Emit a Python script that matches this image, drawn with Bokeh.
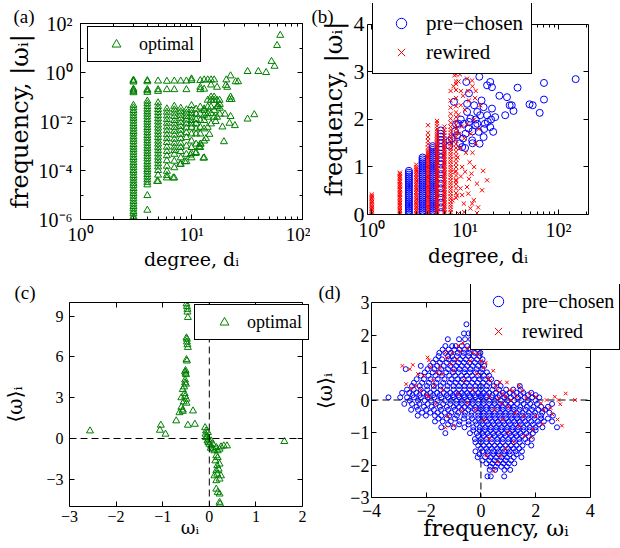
from bokeh.plotting import figure
from bokeh.models import Range1d, FixedTicker, LinearAxis, LogAxis, Legend, LegendItem, Span
from bokeh.layouts import column, row
from bokeh.embed import file_html
from bokeh.resources import INLINE

SERIF = "Liberation Serif"
LAB = "DejaVu Serif"
GREEN = "#008000"
BLUE = "#0000ff"
RED = "#ff0000"

# ---------------- data: panel (a)  degree -> |omega| (optimal) ----------------
a_cols = {
    3: [1.1e-6, 1.3e-6, 1.7e-6, 2.1e-6, 2.7e-6, 3.4e-6, 4.3e-6, 5.5e-6, 7e-6, 9e-6, 1.15e-5, 1.45e-5,
        1.85e-5, 2.4e-5, 3.0e-5, 3.8e-5, 4.9e-5, 6.2e-5, 8e-5, 1.0e-4, 1.3e-4, 1.65e-4, 2.1e-4, 2.7e-4,
        3.4e-4, 4.4e-4, 5.6e-4, 7.1e-4, 9e-4, 1.15e-3, 1.5e-3, 1.9e-3, 2.4e-3, 3.1e-3, 3.9e-3, 5e-3,
        6.4e-3, 8.2e-3, 1.05e-2, 1.35e-2, 1.7e-2, 2.2e-2, 2.8e-2, 3.6e-2, 4.6e-2, 0.15, 0.17, 0.19,
        0.21, 0.41, 0.45, 0.49],
    4: [2.4e-6, 9.5e-6, 2.6e-5, 3.3e-5, 4.2e-5, 5.4e-5, 6.9e-5, 8.8e-5, 1.1e-4, 1.4e-4, 1.8e-4, 2.3e-4,
        3.0e-4, 3.8e-4, 4.9e-4, 6.2e-4, 8e-4, 1.0e-3, 1.3e-3, 1.65e-3, 2.1e-3, 2.7e-3, 3.5e-3, 4.5e-3,
        5.7e-3, 7.3e-3, 9.4e-3, 1.2e-2, 1.55e-2, 2.0e-2, 2.5e-2, 3.2e-2, 4.1e-2, 5.3e-2, 0.068, 0.155,
        0.18, 0.2, 0.42, 0.47],
    5: [3.6e-5, 6.5e-5, 1.0e-4, 1.4e-4, 1.9e-4, 2.6e-4, 3.5e-4, 4.8e-4, 6.5e-4, 8.8e-4, 1.2e-3, 1.6e-3,
        2.2e-3, 3.0e-3, 4.0e-3, 5.4e-3, 7.2e-3, 9.7e-3, 1.3e-2, 1.75e-2, 2.35e-2, 3.1e-2, 4.1e-2, 0.058,
        0.17, 0.2, 0.45],
    6: [5e-5, 6.3e-5, 9.3e-5, 1.5e-4, 2.5e-4, 4e-4, 6e-4, 9e-4, 1.4e-3, 2.0e-3, 2.9e-3, 4.2e-3, 6e-3,
        8.5e-3, 1.2e-2, 1.7e-2, 2.4e-2, 3.3e-2, 0.2, 0.44],
    7: [5e-5, 1.3e-4, 2.4e-4, 4.6e-4, 6.5e-4, 9e-4, 1.3e-3, 1.9e-3, 2.8e-3, 4e-3, 5.6e-3, 8e-3, 1.1e-2,
        1.6e-2, 2.2e-2, 3.0e-2, 0.042, 0.2, 0.45],
    8: [1.8e-4, 3.3e-4, 6e-4, 8.7e-4, 1.3e-3, 2e-3, 3e-3, 4.4e-3, 6.3e-3, 9e-3, 1.3e-2, 1.8e-2, 2.5e-2,
        0.035, 0.45],
    9: [2.3e-4, 4.6e-4, 1.0e-3, 2.2e-3, 3.5e-3, 5.5e-3, 8e-3, 1.15e-2, 1.6e-2, 2.2e-2, 3.0e-2, 0.2, 0.45],
    10: [3.3e-4, 5e-4, 8.7e-4, 1.6e-3, 3.1e-3, 5.8e-3, 8e-3, 1.1e-2, 1.5e-2, 2.1e-2, 2.85e-2, 0.045, 0.47,
         0.55],
    11: [5.4e-4, 1.2e-3, 3.1e-3, 5e-3, 8e-3, 1.2e-2, 2.0e-2, 0.032],
    12: [1.2e-3, 8.7e-4, 3.1e-3, 5.8e-3, 1.1e-2, 2.0e-2, 0.039, 0.25, 0.2, 0.47],
    13: [3.3e-4, 1.6e-3, 5e-3, 1.1e-2, 1.8e-2, 0.0285, 0.033, 0.21, 0.5],
    14: [5.8e-3, 1.5e-2, 2.1e-2, 0.039, 0.074, 0.5],
    15: [8e-3, 2.1e-2, 0.039, 0.074, 0.1, 0.31, 0.5],
    16: [1.5e-2, 0.0285, 0.074, 0.1, 0.5],
    17: [0.04, 0.074, 0.015, 0.25],
    18: [0.02, 0.05],
}
a_extra = [(63, 33), (59, 12.7), (52.6, 2.85), (56, 1.8), (47, 1.0), (40, 1.1), (32, 1.1), (26.3, 0.42),
           (25, 0.42), (22.5, 0.73), (20.6, 0.5), (20.4, 0.3), (22.5, 0.1), (22, 0.08), (17.9, 0.074),
           (17.3, 0.042), (32, 0.0126), (36.8, 0.019), (22.5, 0.016), (22, 0.0085), (24.6, 0.0068),
           (19.6, 0.0015), (12.8, 3.2e-4), (12.1, 1.2e-3), (11.7, 9.3e-4), (10.9, 5e-4), (9.8, 4.3e-4),
           (8.7, 2.3e-4), (7.9, 1.8e-4), (6.85, 5e-5), (4.9, 3.6e-5), (20, 0.02), (19, 0.006),
           (14.5, 0.003), (13.5, 0.002), (16.5, 0.01), (18, 0.035), (21, 0.25), (23, 0.08)]

# ---------------- data: panel (b)  degree -> |omega| ----------------
b_pre_cols = {
    2.5: [0.00, 0.04, 0.08, 0.12, 0.16, 0.20, 0.24, 0.28, 0.32, 0.36, 0.40, 0.44, 0.48, 0.52, 0.56, 0.60,
          0.64, 0.68, 0.72, 0.76, 0.80, 0.84, 0.88, 0.92],
    3.5: [0.00, 0.04, 0.08, 0.12, 0.16, 0.20, 0.24, 0.28, 0.32, 0.36, 0.40, 0.44, 0.48, 0.52, 0.56, 0.60,
          0.64, 0.68, 0.72, 0.76, 0.80, 0.84, 0.88, 0.92, 0.96, 1.00, 1.04, 1.08, 1.12, 1.16, 1.20],
    4.5: [0.00, 0.04, 0.08, 0.12, 0.16, 0.20, 0.24, 0.28, 0.32, 0.36, 0.40, 0.44, 0.48, 0.52, 0.56, 0.60,
          0.64, 0.68, 0.72, 0.76, 0.80, 0.84, 0.88, 0.92, 0.96, 1.00, 1.04, 1.08, 1.12, 1.16, 1.20, 1.24,
          1.28, 1.32, 1.36, 1.40, 1.44],
    5.5: [0.05, 0.15, 0.25, 0.35, 0.45, 0.55, 0.65, 0.75, 0.85, 0.95, 1.05, 1.12, 1.2, 1.28, 1.36, 1.42,
          1.5, 1.57, 1.64, 1.7, 1.77],
}
b_pre_extra = [(6.8, 1.45), (6.8, 1.55), (7.2, 1.6), (7.6, 2.37), (7.8, 1.75), (8.2, 1.67), (8.5, 1.91),
               (8.8, 1.5), (9.3, 1.42), (9.7, 1.91), (10.1, 1.7), (10.3, 2.79), (10.5, 2.33), (10.5, 2.16),
               (10.9, 1.81), (11.4, 2.02), (11.9, 1.56), (12.9, 1.88), (13.5, 2.16), (13.5, 1.91),
               (14.0, 1.74), (14.2, 2.9), (14.3, 1.49), (14.5, 2.09), (15.8, 2.26), (15.8, 1.63),
               (16.3, 1.91), (17.2, 2.72), (17.2, 2.09), (18.6, 2.79), (18.6, 1.84), (19.4, 2.68),
               (19.4, 2.23), (20, 1.74), (21, 2.05), (23.3, 2.5), (26.9, 2.09), (28.1, 2.47), (30, 2.3),
               (31.6, 2.3), (33, 2.18), (36.5, 2.67), (49, 2.32), (53, 2.3), (63, 2.14), (70, 2.42),
               (70, 2.77), (153, 2.85), (12.0, 1.75), (11.0, 1.95), (13, 2.0), (16, 1.8), (9.0, 2.0),
               (8.0, 1.9), (15, 2.4), (12.5, 2.3), (17.5, 1.95), (19, 2.0), (11, 2.55), (9.5, 1.6),
               (10, 1.4), (12, 1.5)]
b_rew_cols = {
    1: [0.00, 0.03, 0.06, 0.10, 0.13, 0.16, 0.19, 0.23, 0.26, 0.29, 0.33, 0.36, 0.39, 0.42],
    2: [0.00, 0.03, 0.07, 0.10, 0.13, 0.17, 0.20, 0.24, 0.27, 0.30, 0.34, 0.37, 0.41, 0.44, 0.47, 0.51,
        0.54, 0.58, 0.61, 0.64, 0.68, 0.71, 0.75, 0.78, 0.81, 0.85, 0.88],
    3: [0.00, 0.03, 0.07, 0.10, 0.14, 0.17, 0.21, 0.24, 0.27, 0.31, 0.34, 0.38, 0.41, 0.45, 0.48, 0.52,
        0.55, 0.58, 0.62, 0.65, 0.69, 0.72, 0.76, 0.79, 0.83, 0.86, 0.90, 0.93, 0.96, 1.00, 1.05],
    4: [0.00, 0.04, 0.07, 0.11, 0.14, 0.18, 0.21, 0.25, 0.28, 0.32, 0.35, 0.39, 0.42, 0.46, 0.49, 0.53,
        0.56, 0.60, 0.63, 0.67, 0.70, 0.74, 0.77, 0.81, 0.84, 0.88, 0.91, 0.95, 0.98, 1.02, 1.05, 1.09,
        1.12, 1.16, 1.19, 1.23, 1.27, 1.31, 1.35, 1.41, 1.48, 1.55, 1.63, 1.72, 1.88],
    5: [0.00, 0.04, 0.07, 0.11, 0.14, 0.18, 0.21, 0.25, 0.28, 0.32, 0.35, 0.39, 0.42, 0.46, 0.49, 0.53,
        0.56, 0.60, 0.63, 0.67, 0.70, 0.74, 0.77, 0.81, 0.84, 0.88, 0.91, 0.95, 0.98, 1.02, 1.05, 1.09,
        1.12, 1.16, 1.19, 1.23, 1.26, 1.30, 1.33, 1.37, 1.40, 1.44, 1.47, 1.51, 1.54, 1.58, 1.62, 1.66,
        1.70, 1.75, 1.80, 1.86, 1.92, 1.97],
    6: [0.02, 0.05, 0.09, 0.12, 0.16, 0.19, 0.23, 0.26, 0.30, 0.33, 0.37, 0.40, 0.44, 0.47, 0.51, 0.54,
        0.58, 0.61, 0.65, 0.68, 0.72, 0.75, 0.79, 0.82, 0.86, 0.89, 0.93, 0.96, 1.00, 1.03, 1.07, 1.10,
        1.14, 1.17, 1.21, 1.24, 1.28, 1.31, 1.35, 1.38, 1.42, 1.46, 1.50, 1.55, 1.60, 1.66, 1.72, 1.78,
        1.85],
    7: [0.05, 0.10, 0.16, 0.21, 0.27, 0.33, 0.38, 0.44, 0.50, 0.55, 0.61, 0.66, 0.72, 0.78, 0.83, 0.89,
        0.94, 1.00, 1.05, 1.11, 1.16, 1.22, 1.27, 1.33, 1.38, 1.44, 1.49, 1.55, 1.60, 1.66, 1.72, 1.78,
        1.85, 1.93, 2.02, 2.12, 2.25, 2.40, 2.60],
    8: [0.35, 0.45, 0.55, 0.64, 0.73, 0.82, 0.91, 1.00, 1.08, 1.16, 1.24, 1.32, 1.40, 1.48, 1.56, 1.64,
        1.72, 1.80, 1.88, 1.96, 2.05, 2.15, 2.28, 2.45, 2.62, 2.80, 2.95],
}
b_rew_extra = [(7.7, 2.93), (10.5, 2.86), (11.9, 2.82), (8.0, 2.75), (9.0, 2.6), (8.5, 2.8), (9.5, 2.5),
               (11, 2.4), (10, 2.2), (12, 2.7), (13, 2.6), (9, 2.3), (8.5, 2.1), (10.5, 1.9), (11.5, 1.7),
               (12.5, 2.0), (9.8, 1.6), (8.8, 1.4), (10.2, 1.3), (11.2, 1.1), (9.3, 1.0), (8.3, 1.2),
               (12.0, 1.3), (11.7, 0.86), (13.4, 0.65), (15.6, 0.92), (17.2, 0.72), (15.2, 0.51),
               (12.4, 0.3), (11.4, 0.13), (13.4, 0.03), (8.5, 0.02), (9.3, 0.41), (10.5, 0.58), (9.7, 0.23),
               (10.8, 0.44), (11.9, 0.23), (13, 1.5), (14, 1.8), (14.5, 2.3), (8.0, 0.7), (9.0, 0.8),
               (10.0, 0.9), (8.6, 1.7), (9.2, 1.85), (10.8, 2.6), (12.8, 2.45), (8.2, 0.4), (9.8, 0.05),
               (13.8, 0.15), (12.5, 1.0), (11.0, 0.75), (7.5, 2.7), (8.8, 2.95), (7.3, 0.3), (7.8, 0.9),
               (8.9, 0.55)]

# ---------------- data: panel (c)  omega -> <omega> (optimal) ----------------
c_pts = [(-0.49, 9.9), (-0.48, 9.7), (-0.47, 9.5), (-0.47, 9.3), (-0.46, 8.9), (-0.49, 7.4), (-0.48, 7.3),
         (-0.48, 7.1), (-0.47, 6.9), (-0.46, 6.7), (-0.49, 5.8), (-0.48, 5.7), (-0.51, 5.0), (-0.52, 4.9),
         (-0.51, 4.8), (-0.50, 4.7), (-0.52, 4.3), (-0.52, 4.1), (-0.50, 4.0), (-0.54, 3.8), (-0.57, 3.6),
         (-0.53, 3.3), (-0.52, 3.1), (-0.49, 2.9), (-0.55, 2.7), (-0.49, 2.6), (-0.6, 3.0), (-0.6, 2.3),
         (-0.57, 2.1), (-0.57, 2.0), (-0.64, 1.9),
         (-2.56, 0.56), (-1.04, 0.98), (-1.06, 0.61), (-0.94, 0.32), (-0.71, 1.3), (-0.46, 0.98),
         (-0.31, 1.05), (-0.35, 2.03), (1.61, -0.22),
         (-0.09, 0.8), (-0.07, 0.56), (-0.08, 0.32), (-0.07, 0.07), (-0.04, -0.17), (-0.02, -0.29),
         (0.0, -0.42), (0.04, -0.54), (0.03, -0.71), (0.08, -0.78), (0.11, -0.9), (-0.03, 0.44),
         (-0.04, 0.12), (-0.02, -0.05), (0.04, -0.17), (0.08, -0.42), (0.15, -0.66), (0.22, -0.78),
         (0.25, -0.61), (0.31, -0.54), (0.38, -0.54), (0.18, -0.9), (0.15, -1.27), (0.13, -1.64),
         (0.17, -2.0), (0.15, -2.37), (0.11, -2.74), (0.17, -2.62), (0.15, -3.1), (0.22, -2.98),
         (0.15, -3.72), (0.18, -3.96), (0.22, -4.08), (0.22, -4.69), (0.23, -4.82), (0.18, -1.4),
         (0.22, -1.88), (0.2, -2.25), (0.25, -2.74)]

# ---------------- data: panel (d)  omega -> <omega> ----------------
d_pre_rows = [
    (2.33, [-0.53]),
    (2.05, [-0.62, -0.45, -0.33]),
    (1.87, [-1.21, -0.8, -0.58, -0.36]),
    (1.66, [-1.3, -1.05, -0.92, -0.7, -0.5, -0.28]),
    (1.55, [-1.4, -1.18, -0.97, -0.78, -0.6, -0.4, -0.12]),
    (1.45, [-1.52, -1.3, -1.1, -0.85, -0.63, -0.43, -0.22, -0.02]),
    (1.35, [-1.55, -1.2, -1.05, -0.88, -0.66, -0.46, -0.26, -0.05]),
    (1.25, [-1.65, -1.42, -1.18, -0.98, -0.76, -0.55, -0.36, -0.14, 0.06]),
    (1.15, [-1.75, -1.5, -1.25, -1.02, -0.82, -0.62, -0.42, -0.22, 0.0]),
    (1.05, [-2.2, -1.85, -1.6, -1.36, -1.12, -0.9, -0.7, -0.5, -0.3, -0.1, 0.12]),
    (0.95, [-2.75, -1.95, -1.7, -1.45, -1.2, -0.98, -0.78, -0.58, -0.38, -0.16, 0.05]),
    (0.85, [-2.05, -1.76, -1.52, -1.27, -1.02, -0.82, -0.6, -0.4, -0.2, 0.0, 0.22]),
    (0.75, [-2.2, -1.92, -1.66, -1.42, -1.16, -0.94, -0.72, -0.52, -0.32, -0.1, 0.12, 0.3]),
    (0.64, [-2.35, -2.08, -1.84, -1.58, -1.33, -1.08, -0.86, -0.66, -0.46, -0.25, -0.05, 0.16, 0.38]),
    (0.53, [-2.45, -2.15, -1.9, -1.63, -1.38, -1.14, -0.92, -0.72, -0.52, -0.32, -0.12, 0.08, 0.3, 0.58]),
    (0.43, [-2.52, -2.24, -1.97, -1.72, -1.47, -1.22, -1.0, -0.8, -0.6, -0.4, -0.2, 0.0, 0.22, 0.47,
            0.72, 1.42]),
    (0.32, [-2.7, -2.46, -2.2, -1.96, -1.72, -1.48, -1.24, -1.0, -0.8, -0.6, -0.4, -0.2, 0.0, 0.2, 0.42,
            0.66, 0.92, 1.18, 1.45]),
    (0.22, [-2.88, -2.62, -2.36, -2.1, -1.85, -1.6, -1.36, -1.12, -0.9, -0.7, -0.5, -0.3, -0.1, 0.1, 0.3,
            0.55, 0.8, 1.05, 1.3, 1.55, 1.84]),
    (0.15, [-2.5, -2.25, -1.98, -1.75, -1.5, -1.25, -1.02, -0.82, -0.62, -0.42, -0.22, 0.0, 0.2, 0.42,
            0.68, 0.92, 1.2, 1.45, 1.72, 2.0]),
    (0.08, [-3.38, -2.95, -2.7, -2.45, -2.2, -1.95, -1.7, -1.45, -1.2, -1.0, -0.8, -0.6, -0.4, -0.2, 0.0,
            0.2, 0.4, 0.62, 0.86, 1.1, 1.35, 1.6, 1.88, 2.13]),
    (-0.02, [-2.6, -2.3, -2.05, -1.82, -1.58, -1.32, -1.1, -0.9, -0.7, -0.5, -0.3, -0.1, 0.1, 0.3, 0.5,
             0.72, 0.96, 1.22, 1.48, 1.72, 2.0]),
    (-0.12, [-2.8, -2.52, -2.25, -1.95, -1.65, -1.38, -1.12, -0.9, -0.7, -0.5, -0.3, -0.1, 0.1, 0.3, 0.5,
             0.7, 0.9, 1.1, 1.32, 1.56, 1.8, 2.05, 2.6]),
    (-0.21, [-2.35, -2.08, -1.8, -1.5, -1.25, -1.0, -0.8, -0.6, -0.4, -0.2, 0.0, 0.2, 0.4, 0.6, 0.8, 1.0,
             1.2, 1.44, 1.68, 1.92, 2.2, 2.45]),
    (-0.3, [-2.55, -2.3, -2.0, -1.72, -1.46, -1.2, -0.95, -0.7, -0.46, -0.22, 0.0, 0.2, 0.4, 0.6, 0.8,
            1.0, 1.2, 1.42, 1.64, 1.87, 2.1, 2.35]),
    (-0.39, [-2.15, -1.85, -1.58, -1.32, -1.08, -0.82, -0.58, -0.34, -0.1, 0.1, 0.3, 0.5, 0.7, 0.9, 1.1,
             1.3, 1.52, 1.75, 1.98, 2.24, 2.5]),
    (-0.48, [-2.31, -2.01, -1.68, -1.45, -1.15, -0.88, -0.6, -0.35, -0.1, 0.1, 0.3, 0.5, 0.7, 0.9, 1.1,
             1.3, 1.5, 1.72, 1.95, 2.2, 2.63]),
    (-0.57, [-1.55, -1.25, -0.95, -0.62, -0.32, -0.1, 0.12, 0.32, 0.52, 0.72, 0.92, 1.12, 1.32, 1.52,
             1.74, 1.96, 2.2, 2.45]),
    (-0.66, [-1.68, -1.4, -1.1, -0.78, -0.45, -0.2, 0.02, 0.22, 0.42, 0.62, 0.82, 1.02, 1.22, 1.42, 1.62,
             1.84, 2.08, 2.3, 2.6]),
    (-0.75, [-1.2, -0.8, -0.45, -0.16, 0.06, 0.26, 0.46, 0.66, 0.86, 1.06, 1.26, 1.46, 1.68, 1.9, 2.12]),
    (-0.84, [-1.45, -1.0, -0.6, -0.28, -0.04, 0.16, 0.36, 0.56, 0.76, 0.96, 1.16, 1.36, 1.56, 1.78, 2.0,
             2.25, 2.78]),
    (-0.93, [-0.28, -0.05, 0.15, 0.35, 0.55, 0.75, 0.95, 1.15, 1.35, 1.56, 1.78, 2.0]),
    (-1.02, [-1.3, -0.4, -0.15, 0.05, 0.25, 0.45, 0.65, 0.85, 1.05, 1.25, 1.45, 1.66, 1.9]),
    (-1.11, [-0.1, 0.1, 0.3, 0.5, 0.7, 0.9, 1.1, 1.3, 1.5, 1.74]),
    (-1.2, [-0.22, 0.0, 0.2, 0.4, 0.6, 0.8, 1.0, 1.2, 1.4, 1.62, 1.86]),
    (-1.3, [-0.2, 0.0, 0.2, 0.4, 0.6, 0.8, 1.0, 1.2, 1.42, 1.7]),
    (-1.4, [-0.1, 0.1, 0.3, 0.5, 0.7, 0.9, 1.1, 1.3, 1.52, 1.84]),
    (-1.49, [0.0, 0.2, 0.4, 0.6, 0.8, 1.0, 1.2, 1.4]),
    (-1.58, [-0.2, 0.05, 0.25, 0.45, 0.65, 0.85, 1.05, 1.27, 1.5]),
    (-1.67, [-0.05, 0.25, 0.45, 0.65, 0.85, 1.05, 1.3]),
    (-1.76, [-0.12, 0.15, 0.35, 0.55, 0.75, 0.95, 1.2, 1.48]),
    (-1.86, [0.05, 0.3, 0.5, 0.7, 0.9, 1.1]),
    (-1.95, [0.2, 0.42, 0.62, 0.82, 1.02, 1.22]),
    (-2.05, [0.35, 0.55, 0.75, 0.95]),
    (-2.15, [0.32, 0.52, 0.86, 1.07]),
    (-2.35, [0.24, 0.36, 0.85]),
]
d_rew_pts = [(-2.87, 1.05), (-2.6, 0.95), (-2.49, 1.08), (-2.73, 0.49), (-2.55, 0.35), (-2.37, 0.44),
             (-2.2, 0.3), (-2.1, 0.75), (-1.95, 1.31), (-1.9, 1.22), (-1.84, 1.02), (-1.75, 0.6),
             (-1.7, 0.45), (-1.6, 0.85), (-1.5, 1.0), (-1.42, 0.79), (-1.3, 1.46), (-1.25, 1.3),
             (-1.1, 1.1), (-1.0, 0.9), (-0.9, 1.25), (-0.83, 1.67), (-0.75, 1.5), (-0.65, 1.75),
             (-0.5, 1.6), (-0.4, 1.2), (-0.3, 1.45), (-0.12, 1.41), (0.0, 1.2), (0.1, 1.0), (0.18, 1.15),
             (0.24, 0.69), (0.35, 0.6), (0.53, 0.44), (0.6, 0.3), (0.7, 0.55), (0.8, 0.2), (0.95, 0.54),
             (1.05, 0.3), (1.18, 0.28), (1.3, 0.1), (1.4, 0.45), (1.52, 0.28), (1.65, 0.05), (1.8, 0.2),
             (2.01, 0.1), (2.2, -0.1), (2.4, 0.0), (2.55, -0.25), (2.7, 0.1), (2.84, 0.0), (2.9, -0.13),
             (3.1, 0.2), (3.44, 0.0), (2.61, -0.44), (2.8, -0.6), (2.96, -0.79), (2.25, -0.74),
             (2.0, -0.5), (1.9, -0.9), (1.84, -1.15), (1.6, -1.1), (1.4, -0.8), (1.2, -1.3), (0.9, -1.5),
             (0.71, -1.72), (0.6, -1.9), (0.47, -2.18), (0.3, -1.2), (0.1, -0.6), (-0.2, -0.3),
             (-0.5, -0.1), (-0.71, -0.33), (-1.0, -0.79), (-1.3, -0.85), (-1.2, -0.5), (-1.66, -0.13),
             (-1.9, 0.1), (-0.3, 0.3), (0.3, 0.1), (0.5, -0.3), (0.8, -0.6), (1.0, -0.2), (1.25, -0.4),
             (-0.6, 0.6), (-1.4, 0.3), (-2.0, 0.15), (-0.15, 0.8), (0.45, 0.9), (-0.85, 0.2), (1.55, -0.5),
             (2.3, -0.3), (-2.3, 0.8), (-1.05, 1.45), (0.2, -1.7), (1.0, -1.0), (0.65, 0.05), (0.9, 0.1),
             (1.1, 0.0), (0.75, -0.1)]

# axis limits and ticks
a_xlim, a_ylim = (1, 100), (1e-6, 100)
b_xlim, b_ylim = (0.9, 210), (0, 4)
c_xlim, c_ylim = (-3, 2), (-5, 10)
d_xlim, d_ylim = (-4, 4), (-3, 3)
a_xticks = [1, 10, 100]
a_xlabels = ["10\u2070", "10\u00b9", "10\u00b2"]
a_yticks = [1e-6, 1e-4, 1e-2, 1, 100]
a_ylabels = ["10\u207b\u2076", "10\u207b\u2074", "10\u207b\u00b2", "10\u2070", "10\u00b2"]
b_xticks = [1, 10, 100]
b_xlabels = ["10\u2070", "10\u00b9", "10\u00b2"]
b_yticks = [0, 1, 2, 3, 4]
c_xticks = [-3, -2, -1, 0, 1, 2]
c_yticks = [-3, 0, 3, 6, 9]
d_xticks = [-4, -2, 0, 2, 4]
d_yticks = [-3, -2, -1, 0, 1, 2, 3]

LOG_MINOR_X = [2, 3, 4, 5, 6, 7, 8, 9, 20, 30, 40, 50, 60, 70, 80, 90, 200]
LOG_MINOR_Y = [1e-5, 1e-3, 1e-1, 10]


def flatten_cols(cols):
    xs, ys = [], []
    for k, vals in cols.items():
        xs += [k] * len(vals)
        ys += vals
    return xs, ys


def signed(v):
    return ("\u2212" + str(abs(v))) if v < 0 else str(v)


def style_axis(ax, size, ticks, minor=None, overrides=None, standoff=4):
    ax.ticker = FixedTicker(ticks=ticks, minor_ticks=minor or [])
    ax.major_tick_in = 5
    ax.major_tick_out = 0
    ax.minor_tick_in = 3
    ax.minor_tick_out = 0
    ax.major_tick_line_color = "black"
    ax.minor_tick_line_color = "black"
    ax.axis_line_color = "black"
    ax.major_label_text_font = SERIF
    ax.major_label_text_font_size = f"{size}px"
    ax.major_label_text_color = "black"
    ax.major_label_text_line_height = 1.0
    ax.major_label_standoff = standoff
    ax.axis_label_text_font = LAB
    ax.axis_label_text_font_style = "normal"
    ax.axis_label_text_color = "black"
    ax.axis_label_text_line_height = 1.0
    if overrides:
        ax.major_label_overrides = overrides


def label_axis(ax, text, size, standoff):
    ax.axis_label = text
    ax.axis_label_text_font_size = f"{size}px"
    ax.axis_label_standoff = standoff


def mirror(p, kind, side, ticks, minor=None, fixed=None, bounds="auto"):
    ax = (LogAxis if kind == "log" else LinearAxis)()
    style_axis(ax, 1, ticks, minor, standoff=0)
    ax.major_label_text_alpha = 0
    ax.bounds = bounds
    if fixed is not None:
        ax.fixed_location = fixed
    p.add_layout(ax, side)


def make_fig(borders, xr, yr, xt="linear", yt="linear", tag="", t_off=0, t_stand=0, outline=True):
    l, r, t, b = borders
    p = figure(width=310, height=274, x_range=Range1d(*xr), y_range=Range1d(*yr), x_axis_type=xt,
               y_axis_type=yt, output_backend="svg", toolbar_location=None,
               min_border_left=l, min_border_right=r, min_border_top=t, min_border_bottom=b)
    try:
        p.frame_align = False          # keep each panel's own frame position inside the rows
    except AttributeError:
        pass
    p.xgrid.visible = False
    p.ygrid.visible = False
    p.outline_line_color = "black" if outline else None
    p.outline_line_width = 1
    p.background_fill_color = "white"
    p.border_fill_color = "white"
    # panel tag "(a)" ... : a left-aligned title shifted into the canvas corner
    p.title.text = tag
    p.title.align = "left"
    p.title.offset = t_off
    p.title.standoff = t_stand
    p.title.text_font = SERIF
    p.title.text_font_size = "19px"
    p.title.text_font_style = "normal"
    p.title.text_color = "black"
    return p


def make_legend(items, loc, font, pad, gw, gh, standoff, spacing):
    return Legend(items=items, location=loc, margin=0, padding=pad, spacing=spacing,
                  glyph_width=gw, glyph_height=gh, label_height=gh, label_standoff=standoff,
                  label_text_font=SERIF, label_text_font_size=f"{font}px", label_text_color="black",
                  label_text_line_height=1.0,
                  border_line_color="black", border_line_width=1, border_line_alpha=1,
                  background_fill_color="white", background_fill_alpha=1)


# ---------------- panel (a) ----------------
pa = make_fig((80, 8, 23, 55), a_xlim, a_ylim, "log", "log", "(a)", -67, -6)
style_axis(pa.below[0], 19, a_xticks, LOG_MINOR_X, dict(zip(a_xticks, a_xlabels)), standoff=4)
style_axis(pa.left[0], 20, a_yticks, LOG_MINOR_Y, dict(zip(a_yticks, a_ylabels)), standoff=8)
label_axis(pa.below[0], "degree, d\u1d62", 19, 0)
label_axis(pa.left[0], "frequency, |\u03c9\u1d62|", 24, 2)
mirror(pa, "log", "above", a_xticks, LOG_MINOR_X)
mirror(pa, "log", "right", a_yticks, LOG_MINOR_Y)
ax_, ay_ = flatten_cols(a_cols)
ax_ += [q[0] for q in a_extra]
ay_ += [q[1] for q in a_extra]
ra = pa.scatter(ax_, ay_, marker="triangle", size=7, fill_color=None, line_color=GREEN, line_width=1)
pa.add_layout(make_legend([LegendItem(label="optimal", renderers=[ra])], (7, 157), 18, 6, 44, 22, 1, 0),
              "center")

# ---------------- panel (b) ---------------- (frame reaches above the box so the legend can overhang)
pb = make_fig((57, 32, 3, 60), b_xlim, (b_ylim[0], 4.442), "log", "linear", "(b)", -56, -46,
              outline=False)
style_axis(pb.below[0], 20, b_xticks, LOG_MINOR_X, dict(zip(b_xticks, b_xlabels)), standoff=4)
style_axis(pb.left[0], 22, b_yticks, [], standoff=3)
pb.left[0].bounds = b_ylim
label_axis(pb.below[0], "degree, d\u1d62", 20, 0)
label_axis(pb.left[0], "frequency, |\u03c9\u1d62|", 24, 3)
mirror(pb, "log", "above", b_xticks, LOG_MINOR_X, fixed=b_ylim[1])
mirror(pb, "linear", "right", b_yticks, bounds=b_ylim)
bpx, bpy = flatten_cols(b_pre_cols)
bpx += [q[0] for q in b_pre_extra]
bpy += [q[1] for q in b_pre_extra]
brx, bry = flatten_cols(b_rew_cols)
brx += [q[0] for q in b_rew_extra]
bry += [q[1] for q in b_rew_extra]
rb1 = pb.scatter(bpx, bpy, marker="circle", size=7, fill_color=None, line_color=BLUE, line_width=1)
rb2 = pb.scatter(brx, bry, marker="x", size=6, line_color=RED, line_width=1)
pb.add_layout(make_legend([LegendItem(label="pre\u2212chosen", renderers=[rb1]),
                           LegendItem(label="rewired", renderers=[rb2])],
                          (5, 140), 21, 8, 40, 26, 5, 3), "center")

# ---------------- panel (c) ---------------- (frame reaches right of the box for the legend)
pc = make_fig((68, 0, 28, 42), (c_xlim[0], 2.171), c_ylim, tag="(c)", t_off=-55, t_stand=0,
              outline=False)
style_axis(pc.below[0], 16, c_xticks, [], {v: signed(v) for v in c_xticks}, standoff=4)
style_axis(pc.left[0], 16, c_yticks, [], {v: signed(v) for v in c_yticks}, standoff=6)
pc.below[0].bounds = c_xlim
label_axis(pc.below[0], "\u03c9\u1d62", 18, -8)
label_axis(pc.left[0], "\u27e8\u03c9\u27e9\u1d62", 20, 16)
mirror(pc, "linear", "above", c_xticks, bounds=c_xlim)
mirror(pc, "linear", "right", c_yticks, fixed=c_xlim[1])
pc.add_layout(Span(location=0, dimension="height", line_color="black", line_dash="7 4", line_width=1))
pc.segment(x0=[c_xlim[0]], y0=[0], x1=[c_xlim[1]], y1=[0], line_color="black", line_dash="7 4",
           line_width=1)
rc = pc.scatter([q[0] for q in c_pts], [q[1] for q in c_pts], marker="triangle", size=7,
                fill_color=None, line_color=GREEN, line_width=1)
pc.add_layout(make_legend([LegendItem(label="optimal", renderers=[rc])], (125, 166), 18, 6, 46, 22, 0, 0),
              "center")

# ---------------- panel (d) ---------------- (frame reaches above/right of the box for the legend)
pd = make_fig((54, 0, 10, 51), (d_xlim[0], 5.102), (d_ylim[0], 3.554), tag="(d)", t_off=-53,
              t_stand=-36, outline=False)
style_axis(pd.below[0], 18, d_xticks, [], {v: signed(v) for v in d_xticks}, standoff=6)
style_axis(pd.left[0], 18, d_yticks, [], {v: signed(v) for v in d_yticks}, standoff=2)
pd.below[0].bounds = d_xlim
pd.left[0].bounds = d_ylim
label_axis(pd.below[0], "frequency, \u03c9\u1d62", 22, -4)
label_axis(pd.left[0], "\u27e8\u03c9\u27e9\u1d62", 20, 10)
mirror(pd, "linear", "above", d_xticks, fixed=d_ylim[1], bounds=d_xlim)
mirror(pd, "linear", "right", d_yticks, fixed=d_xlim[1], bounds=d_ylim)
pd.add_layout(Span(location=0, dimension="height", line_color="black", line_dash="7 4", line_width=1,
                   level="underlay"))
pd.segment(x0=[d_xlim[0]], y0=[0], x1=[d_xlim[1]], y1=[0], line_color="black", line_dash="7 4",
           line_width=1, level="underlay")
dpx, dpy = [], []
for yv, xs in d_pre_rows:
    dpx += xs
    dpy += [yv] * len(xs)
rd1 = pd.scatter(dpx, dpy, marker="circle", size=5, fill_color=None, line_color=BLUE, line_width=1)
rd2 = pd.scatter([q[0] for q in d_rew_pts], [q[1] for q in d_rew_pts], marker="x", size=5,
                 line_color=RED, line_width=1)
pd.add_layout(make_legend([LegendItem(label="pre\u2212chosen", renderers=[rd1]),
                           LegendItem(label="rewired", renderers=[rd2])],
                          (99, 147), 20, 5, 44, 26, 2, 4), "center")

layout = column(row(column(pa), column(pb)), row(column(pc), column(pd)))
open("out.html", "w").write(file_html(layout, INLINE))
